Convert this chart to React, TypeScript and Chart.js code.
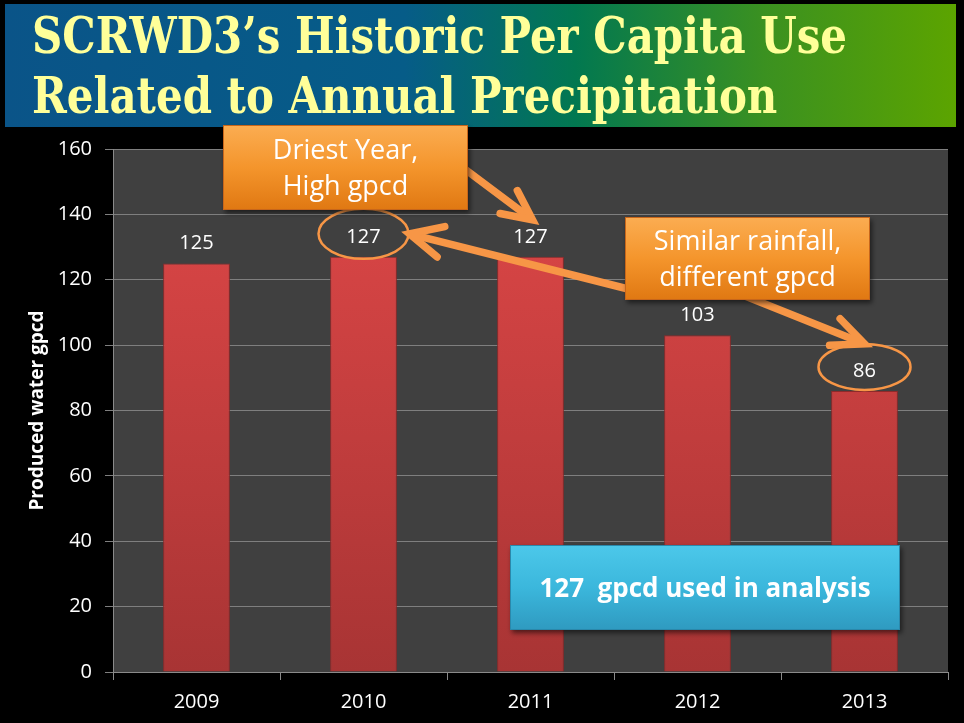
import React, { useEffect, useRef } from 'react';
import { Chart, registerables } from 'chart.js';

Chart.register(...registerables);

// ---- data ----
const years = ['2009', '2010', '2011', '2012', '2013'];
const gpcd = [125, 127, 127, 103, 86];
const yMin = 0;
const yMax = 160;
const yStep = 20;

// ---- text ----
const titleLines = ['SCRWD3\u2019s Historic Per Capita Use', 'Related to Annual Precipitation'];
const yAxisTitle = 'Produced water gpcd';
const driestText = ['Driest Year,', 'High gpcd'];
const similarText = ['Similar rainfall,', 'different gpcd'];
const analysisText = ['127  gpcd used in analysis'];

const ORANGE = '#f79646';

function drawArrow(ctx: CanvasRenderingContext2D, x1: number, y1: number, x2: number, y2: number, spread = 0.45, len = 33) {
  const ang = Math.atan2(y2 - y1, x2 - x1);
  ctx.save();
  ctx.strokeStyle = ORANGE;
  ctx.lineWidth = 7.5;
  ctx.lineCap = 'round';
  ctx.lineJoin = 'miter';
  ctx.beginPath();
  ctx.moveTo(x1, y1);
  ctx.lineTo(x2 - 3 * Math.cos(ang), y2 - 3 * Math.sin(ang));
  ctx.stroke();
  ctx.beginPath();
  ctx.moveTo(x2 - len * Math.cos(ang - spread), y2 - len * Math.sin(ang - spread));
  ctx.lineTo(x2, y2);
  ctx.lineTo(x2 - len * Math.cos(ang + spread), y2 - len * Math.sin(ang + spread));
  ctx.stroke();
  ctx.restore();
}

function drawBox(
  ctx: CanvasRenderingContext2D,
  x: number, y: number, w: number, h: number,
  stops: [number, string][], border: string,
  lines: string[], font: string, fontSize: number, lineGap: number
) {
  ctx.save();
  ctx.shadowColor = 'rgba(0,0,0,0.55)';
  ctx.shadowBlur = 5;
  ctx.shadowOffsetX = 2;
  ctx.shadowOffsetY = 3;
  const g = ctx.createLinearGradient(0, y, 0, y + h);
  stops.forEach(([p, c]) => g.addColorStop(p, c));
  ctx.fillStyle = g;
  ctx.fillRect(x, y, w, h);
  ctx.restore();
  ctx.save();
  ctx.strokeStyle = border;
  ctx.lineWidth = 1;
  ctx.strokeRect(x + 0.5, y + 0.5, w - 1, h - 1);
  ctx.fillStyle = '#ffffff';
  ctx.font = font;
  ctx.textAlign = 'center';
  ctx.textBaseline = 'alphabetic';
  const cy = y + h / 2;
  const capH = fontSize * 0.714;
  lines.forEach((t, i) => {
    const by = cy + (i - (lines.length - 1) / 2) * lineGap + capH / 2;
    ctx.fillText(t, x + w / 2, by);
  });
  ctx.restore();
}

const slidePlugin = {
  id: 'slide',
  beforeDraw(chart: any) {
    const { ctx, width, height, chartArea: a } = chart;
    ctx.save();
    ctx.fillStyle = '#000';
    ctx.fillRect(0, 0, width, height);
    // banner
    const g = ctx.createLinearGradient(5, 0, 956, 0);
    g.addColorStop(0, '#0a5488');
    g.addColorStop(0.42, '#065c88');
    g.addColorStop(0.6, '#027850');
    g.addColorStop(0.8, '#3b9120');
    g.addColorStop(1, '#5ca400');
    ctx.fillStyle = g;
    ctx.fillRect(5, 4, 951, 123);
    // title
    ctx.font = 'bold 50px "DejaVu Serif"';
    const w1 = ctx.measureText(titleLines[0]).width;
    const sx = 815 / w1;
    ctx.fillStyle = '#ffff99';
    ctx.textAlign = 'left';
    ctx.textBaseline = 'alphabetic';
    [53, 113].forEach((by, i) => {
      ctx.save();
      ctx.translate(32, by);
      ctx.scale(sx, 1);
      ctx.fillText(titleLines[i], 0, 0);
      ctx.restore();
    });
    // plot background
    ctx.fillStyle = '#404040';
    ctx.fillRect(a.left, a.top, a.right - a.left, a.bottom - a.top);
    ctx.restore();
  },
  afterDatasetsDraw(chart: any) {
    const { ctx } = chart;
    const meta = chart.getDatasetMeta(0);
    ctx.save();
    ctx.font = '20px "Open Sans"';
    ctx.fillStyle = '#ffffff';
    ctx.textAlign = 'center';
    ctx.textBaseline = 'middle';
    meta.data.forEach((bar: any, i: number) => {
      ctx.fillText(String(gpcd[i]), bar.x, bar.y - 20);
    });
    ctx.restore();
  },
  afterDraw(chart: any) {
    const { ctx } = chart;
    const xs = chart.scales.x;
    const ys = chart.scales.y;
    const labelPos = (i: number) => ({ x: xs.getPixelForValue(i), y: ys.getPixelForValue(gpcd[i]) - 20 });
    const e1 = labelPos(1);
    e1.y -= 3;
    const e2 = labelPos(4);
    e2.y -= 4;
    const l2011 = labelPos(2);
    ctx.save();
    ctx.strokeStyle = ORANGE;
    ctx.lineWidth = 2.5;
    ctx.beginPath();
    ctx.ellipse(e1.x, e1.y, 45, 25, 0, 0, Math.PI * 2);
    ctx.stroke();
    ctx.beginPath();
    ctx.ellipse(e2.x, e2.y, 46, 23, 0, 0, Math.PI * 2);
    ctx.stroke();
    ctx.restore();

    drawArrow(ctx, 466, 170, l2011.x + 2, l2011.y - 17, 0.45, 33);
    drawArrow(ctx, 640, 292, e1.x + 46, e1.y, 0.45, 36);
    drawArrow(ctx, 745, 296, e2.x, e2.y - 23, 0.42, 35);

    const orangeStops: [number, string][] = [[0, '#fbad52'], [0.5, '#f4952c'], [1, '#e07812']];
    drawBox(ctx, 223, 125, 245, 85, orangeStops, '#c8661a', driestText, '27px "Open Sans"', 27, 36);
    drawBox(ctx, 625, 217, 245, 83, orangeStops, '#c8661a', similarText, '27px "Open Sans"', 27, 36);
    const cyanStops: [number, string][] = [[0, '#4cc8ea'], [0.5, '#3bb7dc'], [1, '#2f9ac0']];
    drawBox(ctx, 510, 545, 390, 85, cyanStops, '#2a88ab', analysisText, 'bold 26px "Open Sans"', 26, 36);
  },
};

export default function App() {
  const ref = useRef<HTMLCanvasElement | null>(null);
  useEffect(() => {
    document.body.style.margin = '0';
    const canvas = ref.current;
    if (!canvas) return;
    const chart = new Chart(canvas, {
      type: 'bar',
      data: {
        labels: years,
        datasets: [
          {
            data: gpcd,
            backgroundColor: (c: any) => {
              const { chart: ch } = c;
              const a = ch.chartArea;
              if (!a) return '#cc4040';
              const g = ch.ctx.createLinearGradient(0, a.top, 0, a.bottom);
              g.addColorStop(0, '#e04848');
              g.addColorStop(1, '#a83434');
              return g;
            },
            borderColor: '#8e2a2a',
            borderWidth: 1,
            categoryPercentage: 0.8,
            barPercentage: 0.5,
          },
        ],
      },
      options: {
        responsive: false,
        animation: false,
        devicePixelRatio: 1,
        layout: { padding: { top: 149, right: 16, bottom: 0, left: 0 } },
        plugins: {
          legend: { display: false },
          tooltip: { enabled: false },
          title: { display: false },
        },
        scales: {
          x: {
            afterFit: (s: any) => { s.height = 51; },
            grid: {
              display: true,
              drawOnChartArea: false,
              drawTicks: true,
              tickLength: 8,
              color: '#8a8a8a',
              offset: true,
            },
            border: { display: true, color: '#8a8a8a' },
            ticks: {
              color: '#ffffff',
              font: { family: '"Open Sans"', size: 20 },
              padding: 10,
            },
          },
          y: {
            min: yMin,
            max: yMax,
            afterFit: (s: any) => { s.width = 113; },
            ticks: {
              stepSize: yStep,
              color: '#ffffff',
              font: { family: '"Open Sans"', size: 20 },
              padding: 13,
            },
            grid: {
              color: '#7f7f7f',
              tickLength: 8,
              drawTicks: true,
            },
            border: { display: true, color: '#8a8a8a' },
            title: {
              display: true,
              text: yAxisTitle,
              color: '#ffffff',
              font: { family: '"Open Sans"', size: 19, weight: 'bold' },
              padding: { top: 26, bottom: 0 },
            },
          },
        },
      },
      plugins: [slidePlugin],
    } as any);
    return () => chart.destroy();
  }, []);
  return (
    <div style={{ position: 'fixed', left: 0, top: 0, width: 964, height: 723, background: '#000' }}>
      <canvas ref={ref} width={964} height={723} style={{ display: 'block', width: 964, height: 723 }} />
    </div>
  );
}
